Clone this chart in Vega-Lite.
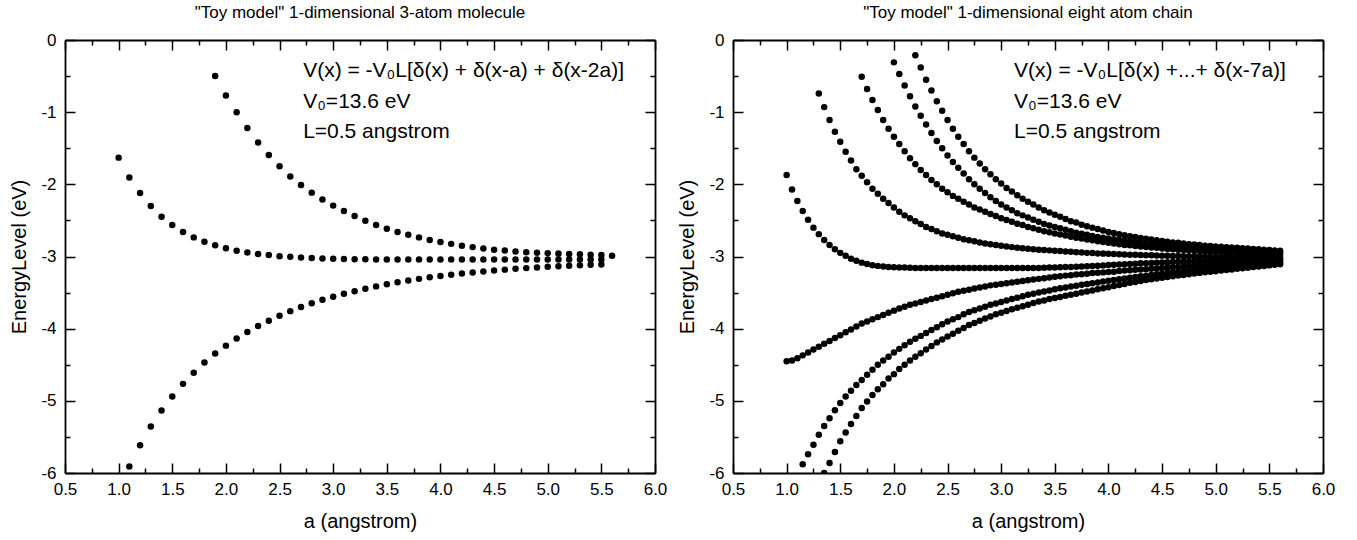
{
"$schema":"https://vega.github.io/schema/vega-lite/v6.json",
"background":"white",
"padding":{"left":9,"top":4,"right":5,"bottom":5},
"config":{"font":"Liberation Sans","view":{"stroke":null},
"axis":{"grid":false,"domainColor":"black","domainWidth":1.8,"tickColor":"black","tickWidth":1.5,"labelColor":"black","labelFontSize":17,"labelFont":"Liberation Sans","titleColor":"black","titleFontSize":20,"titleFontWeight":"normal","titleFont":"Liberation Sans"},
"title":{"fontSize":17,"fontWeight":"normal","color":"black","font":"Liberation Sans"}},
"datasets":{
"L":[
{"s":"L3","a":1.9,"E":-0.5},{"s":"L3","a":2.0,"E":-0.77},{"s":"L3","a":2.1,"E":-1.0},{"s":"L3","a":2.2,"E":-1.22},{"s":"L3","a":2.3,"E":-1.42},{"s":"L3","a":2.4,"E":-1.595},{"s":"L3","a":2.5,"E":-1.75},{"s":"L3","a":2.6,"E":-1.89},{"s":"L3","a":2.7,"E":-2.01},{"s":"L3","a":2.8,"E":-2.115},{"s":"L3","a":2.9,"E":-2.21},{"s":"L3","a":3.0,"E":-2.295},{"s":"L3","a":3.1,"E":-2.37},{"s":"L3","a":3.2,"E":-2.44},{"s":"L3","a":3.3,"E":-2.505},{"s":"L3","a":3.4,"E":-2.563},{"s":"L3","a":3.5,"E":-2.615},{"s":"L3","a":3.6,"E":-2.66},{"s":"L3","a":3.7,"E":-2.7},{"s":"L3","a":3.8,"E":-2.735},{"s":"L3","a":3.9,"E":-2.77},{"s":"L3","a":4.0,"E":-2.8},{"s":"L3","a":4.1,"E":-2.825},{"s":"L3","a":4.2,"E":-2.85},{"s":"L3","a":4.3,"E":-2.87},{"s":"L3","a":4.4,"E":-2.89},{"s":"L3","a":4.5,"E":-2.905},{"s":"L3","a":4.6,"E":-2.918},{"s":"L3","a":4.7,"E":-2.93},{"s":"L3","a":4.8,"E":-2.94},{"s":"L3","a":4.9,"E":-2.948},{"s":"L3","a":5.0,"E":-2.955},{"s":"L3","a":5.1,"E":-2.96},{"s":"L3","a":5.2,"E":-2.965},{"s":"L3","a":5.3,"E":-2.97},{"s":"L3","a":5.4,"E":-2.975},{"s":"L3","a":5.5,"E":-2.98},{"s":"L3","a":5.6,"E":-2.99},
{"s":"L2","a":1.0,"E":-1.63},{"s":"L2","a":1.1,"E":-1.905},{"s":"L2","a":1.2,"E":-2.12},{"s":"L2","a":1.3,"E":-2.3},{"s":"L2","a":1.4,"E":-2.45},{"s":"L2","a":1.5,"E":-2.565},{"s":"L2","a":1.6,"E":-2.66},{"s":"L2","a":1.7,"E":-2.735},{"s":"L2","a":1.8,"E":-2.795},{"s":"L2","a":1.9,"E":-2.845},{"s":"L2","a":2.0,"E":-2.885},{"s":"L2","a":2.1,"E":-2.92},{"s":"L2","a":2.2,"E":-2.945},{"s":"L2","a":2.3,"E":-2.965},{"s":"L2","a":2.4,"E":-2.98},{"s":"L2","a":2.5,"E":-2.995},{"s":"L2","a":2.6,"E":-3.005},{"s":"L2","a":2.7,"E":-3.015},{"s":"L2","a":2.8,"E":-3.022},{"s":"L2","a":2.9,"E":-3.028},{"s":"L2","a":3.0,"E":-3.032},{"s":"L2","a":3.1,"E":-3.035},{"s":"L2","a":3.2,"E":-3.037},{"s":"L2","a":3.3,"E":-3.039},{"s":"L2","a":3.4,"E":-3.04},{"s":"L2","a":3.5,"E":-3.04},{"s":"L2","a":3.6,"E":-3.04},{"s":"L2","a":3.7,"E":-3.04},{"s":"L2","a":3.8,"E":-3.04},{"s":"L2","a":3.9,"E":-3.04},{"s":"L2","a":4.0,"E":-3.04},{"s":"L2","a":4.1,"E":-3.04},{"s":"L2","a":4.2,"E":-3.04},{"s":"L2","a":4.3,"E":-3.04},{"s":"L2","a":4.4,"E":-3.04},{"s":"L2","a":4.5,"E":-3.04},{"s":"L2","a":4.6,"E":-3.04},{"s":"L2","a":4.7,"E":-3.04},{"s":"L2","a":4.8,"E":-3.04},{"s":"L2","a":4.9,"E":-3.04},{"s":"L2","a":5.0,"E":-3.04},{"s":"L2","a":5.1,"E":-3.04},{"s":"L2","a":5.2,"E":-3.04},{"s":"L2","a":5.3,"E":-3.04},{"s":"L2","a":5.4,"E":-3.04},{"s":"L2","a":5.5,"E":-3.04},
{"s":"L1","a":1.1,"E":-5.91},{"s":"L1","a":1.2,"E":-5.615},{"s":"L1","a":1.3,"E":-5.355},{"s":"L1","a":1.4,"E":-5.135},{"s":"L1","a":1.5,"E":-4.94},{"s":"L1","a":1.6,"E":-4.765},{"s":"L1","a":1.7,"E":-4.61},{"s":"L1","a":1.8,"E":-4.47},{"s":"L1","a":1.9,"E":-4.345},{"s":"L1","a":2.0,"E":-4.235},{"s":"L1","a":2.1,"E":-4.135},{"s":"L1","a":2.2,"E":-4.045},{"s":"L1","a":2.3,"E":-3.963},{"s":"L1","a":2.4,"E":-3.889},{"s":"L1","a":2.5,"E":-3.82},{"s":"L1","a":2.6,"E":-3.757},{"s":"L1","a":2.7,"E":-3.7},{"s":"L1","a":2.8,"E":-3.647},{"s":"L1","a":2.9,"E":-3.6},{"s":"L1","a":3.0,"E":-3.557},{"s":"L1","a":3.1,"E":-3.517},{"s":"L1","a":3.2,"E":-3.48},{"s":"L1","a":3.3,"E":-3.446},{"s":"L1","a":3.4,"E":-3.414},{"s":"L1","a":3.5,"E":-3.385},{"s":"L1","a":3.6,"E":-3.358},{"s":"L1","a":3.7,"E":-3.333},{"s":"L1","a":3.8,"E":-3.31},{"s":"L1","a":3.9,"E":-3.289},{"s":"L1","a":4.0,"E":-3.27},{"s":"L1","a":4.1,"E":-3.252},{"s":"L1","a":4.2,"E":-3.236},{"s":"L1","a":4.3,"E":-3.221},{"s":"L1","a":4.4,"E":-3.207},{"s":"L1","a":4.5,"E":-3.194},{"s":"L1","a":4.6,"E":-3.182},{"s":"L1","a":4.7,"E":-3.171},{"s":"L1","a":4.8,"E":-3.161},{"s":"L1","a":4.9,"E":-3.152},{"s":"L1","a":5.0,"E":-3.143},{"s":"L1","a":5.1,"E":-3.135},{"s":"L1","a":5.2,"E":-3.128},{"s":"L1","a":5.3,"E":-3.121},{"s":"L1","a":5.4,"E":-3.115},{"s":"L1","a":5.5,"E":-3.11}
],
"R":[
{"s":"r8","a":2.2,"E":-0.21},{"s":"r8","a":2.25,"E":-0.38},{"s":"r8","a":2.3,"E":-0.55},{"s":"r8","a":2.35,"E":-0.7},{"s":"r8","a":2.4,"E":-0.85},{"s":"r8","a":2.45,"E":-0.98},{"s":"r8","a":2.5,"E":-1.11},{"s":"r8","a":2.55,"E":-1.23},{"s":"r8","a":2.6,"E":-1.34},{"s":"r8","a":2.65,"E":-1.44},{"s":"r8","a":2.7,"E":-1.54},{"s":"r8","a":2.75,"E":-1.63},{"s":"r8","a":2.8,"E":-1.71},{"s":"r8","a":2.85,"E":-1.79},{"s":"r8","a":2.9,"E":-1.86},{"s":"r8","a":2.95,"E":-1.93},{"s":"r8","a":3.0,"E":-1.99},{"s":"r8","a":3.05,"E":-2.05},{"s":"r8","a":3.1,"E":-2.1},{"s":"r8","a":3.15,"E":-2.15},{"s":"r8","a":3.2,"E":-2.2},{"s":"r8","a":3.25,"E":-2.24},{"s":"r8","a":3.3,"E":-2.28},{"s":"r8","a":3.35,"E":-2.32},{"s":"r8","a":3.4,"E":-2.36},{"s":"r8","a":3.45,"E":-2.39},{"s":"r8","a":3.5,"E":-2.42},{"s":"r8","a":3.55,"E":-2.45},{"s":"r8","a":3.6,"E":-2.48},{"s":"r8","a":3.65,"E":-2.51},{"s":"r8","a":3.7,"E":-2.53},{"s":"r8","a":3.75,"E":-2.56},{"s":"r8","a":3.8,"E":-2.58},{"s":"r8","a":3.85,"E":-2.6},{"s":"r8","a":3.9,"E":-2.62},{"s":"r8","a":3.95,"E":-2.64},{"s":"r8","a":4.0,"E":-2.66},{"s":"r8","a":4.05,"E":-2.675},{"s":"r8","a":4.1,"E":-2.69},{"s":"r8","a":4.15,"E":-2.705},{"s":"r8","a":4.2,"E":-2.72},{"s":"r8","a":4.25,"E":-2.73},{"s":"r8","a":4.3,"E":-2.745},{"s":"r8","a":4.35,"E":-2.755},{"s":"r8","a":4.4,"E":-2.765},{"s":"r8","a":4.45,"E":-2.775},{"s":"r8","a":4.5,"E":-2.785},{"s":"r8","a":4.55,"E":-2.795},{"s":"r8","a":4.6,"E":-2.805},{"s":"r8","a":4.65,"E":-2.81},{"s":"r8","a":4.7,"E":-2.82},{"s":"r8","a":4.75,"E":-2.83},{"s":"r8","a":4.8,"E":-2.835},{"s":"r8","a":4.85,"E":-2.84},{"s":"r8","a":4.9,"E":-2.85},{"s":"r8","a":4.95,"E":-2.855},{"s":"r8","a":5.0,"E":-2.86},{"s":"r8","a":5.05,"E":-2.865},{"s":"r8","a":5.1,"E":-2.87},{"s":"r8","a":5.15,"E":-2.875},{"s":"r8","a":5.2,"E":-2.88},{"s":"r8","a":5.25,"E":-2.885},{"s":"r8","a":5.3,"E":-2.89},{"s":"r8","a":5.35,"E":-2.895},{"s":"r8","a":5.4,"E":-2.9},{"s":"r8","a":5.45,"E":-2.905},{"s":"r8","a":5.5,"E":-2.91},{"s":"r8","a":5.55,"E":-2.915},{"s":"r8","a":5.6,"E":-2.92},
{"s":"r7","a":2.0,"E":-0.31},{"s":"r7","a":2.05,"E":-0.47},{"s":"r7","a":2.1,"E":-0.63},{"s":"r7","a":2.15,"E":-0.78},{"s":"r7","a":2.2,"E":-0.92},{"s":"r7","a":2.25,"E":-1.05},{"s":"r7","a":2.3,"E":-1.17},{"s":"r7","a":2.35,"E":-1.29},{"s":"r7","a":2.4,"E":-1.4},{"s":"r7","a":2.45,"E":-1.5},{"s":"r7","a":2.5,"E":-1.6},{"s":"r7","a":2.55,"E":-1.69},{"s":"r7","a":2.6,"E":-1.77},{"s":"r7","a":2.65,"E":-1.85},{"s":"r7","a":2.7,"E":-1.93},{"s":"r7","a":2.75,"E":-2.0},{"s":"r7","a":2.8,"E":-2.06},{"s":"r7","a":2.85,"E":-2.12},{"s":"r7","a":2.9,"E":-2.18},{"s":"r7","a":2.95,"E":-2.23},{"s":"r7","a":3.0,"E":-2.28},{"s":"r7","a":3.05,"E":-2.32},{"s":"r7","a":3.1,"E":-2.36},{"s":"r7","a":3.15,"E":-2.4},{"s":"r7","a":3.2,"E":-2.43},{"s":"r7","a":3.25,"E":-2.46},{"s":"r7","a":3.3,"E":-2.49},{"s":"r7","a":3.35,"E":-2.52},{"s":"r7","a":3.4,"E":-2.55},{"s":"r7","a":3.45,"E":-2.57},{"s":"r7","a":3.5,"E":-2.59},{"s":"r7","a":3.55,"E":-2.61},{"s":"r7","a":3.6,"E":-2.63},{"s":"r7","a":3.65,"E":-2.65},{"s":"r7","a":3.7,"E":-2.67},{"s":"r7","a":3.75,"E":-2.685},{"s":"r7","a":3.8,"E":-2.7},{"s":"r7","a":3.85,"E":-2.715},{"s":"r7","a":3.9,"E":-2.73},{"s":"r7","a":3.95,"E":-2.74},{"s":"r7","a":4.0,"E":-2.75},{"s":"r7","a":4.05,"E":-2.76},{"s":"r7","a":4.1,"E":-2.77},{"s":"r7","a":4.15,"E":-2.78},{"s":"r7","a":4.2,"E":-2.79},{"s":"r7","a":4.25,"E":-2.8},{"s":"r7","a":4.3,"E":-2.81},{"s":"r7","a":4.35,"E":-2.82},{"s":"r7","a":4.4,"E":-2.825},{"s":"r7","a":4.45,"E":-2.83},{"s":"r7","a":4.5,"E":-2.84},{"s":"r7","a":4.55,"E":-2.845},{"s":"r7","a":4.6,"E":-2.85},{"s":"r7","a":4.65,"E":-2.86},{"s":"r7","a":4.7,"E":-2.865},{"s":"r7","a":4.75,"E":-2.87},{"s":"r7","a":4.8,"E":-2.875},{"s":"r7","a":4.85,"E":-2.88},{"s":"r7","a":4.9,"E":-2.885},{"s":"r7","a":4.95,"E":-2.89},{"s":"r7","a":5.0,"E":-2.895},{"s":"r7","a":5.05,"E":-2.9},{"s":"r7","a":5.1,"E":-2.905},{"s":"r7","a":5.15,"E":-2.91},{"s":"r7","a":5.2,"E":-2.913},{"s":"r7","a":5.25,"E":-2.917},{"s":"r7","a":5.3,"E":-2.92},{"s":"r7","a":5.35,"E":-2.925},{"s":"r7","a":5.4,"E":-2.93},{"s":"r7","a":5.45,"E":-2.933},{"s":"r7","a":5.5,"E":-2.937},{"s":"r7","a":5.55,"E":-2.94},{"s":"r7","a":5.6,"E":-2.945},
{"s":"r6","a":1.7,"E":-0.51},{"s":"r6","a":1.75,"E":-0.68},{"s":"r6","a":1.8,"E":-0.83},{"s":"r6","a":1.85,"E":-0.97},{"s":"r6","a":1.9,"E":-1.11},{"s":"r6","a":1.95,"E":-1.23},{"s":"r6","a":2.0,"E":-1.34},{"s":"r6","a":2.05,"E":-1.44},{"s":"r6","a":2.1,"E":-1.54},{"s":"r6","a":2.15,"E":-1.64},{"s":"r6","a":2.2,"E":-1.72},{"s":"r6","a":2.25,"E":-1.8},{"s":"r6","a":2.3,"E":-1.87},{"s":"r6","a":2.35,"E":-1.94},{"s":"r6","a":2.4,"E":-2.0},{"s":"r6","a":2.45,"E":-2.06},{"s":"r6","a":2.5,"E":-2.11},{"s":"r6","a":2.55,"E":-2.16},{"s":"r6","a":2.6,"E":-2.2},{"s":"r6","a":2.65,"E":-2.24},{"s":"r6","a":2.7,"E":-2.28},{"s":"r6","a":2.75,"E":-2.32},{"s":"r6","a":2.8,"E":-2.35},{"s":"r6","a":2.85,"E":-2.38},{"s":"r6","a":2.9,"E":-2.41},{"s":"r6","a":2.95,"E":-2.44},{"s":"r6","a":3.0,"E":-2.47},{"s":"r6","a":3.05,"E":-2.495},{"s":"r6","a":3.1,"E":-2.52},{"s":"r6","a":3.15,"E":-2.545},{"s":"r6","a":3.2,"E":-2.565},{"s":"r6","a":3.25,"E":-2.59},{"s":"r6","a":3.3,"E":-2.61},{"s":"r6","a":3.35,"E":-2.63},{"s":"r6","a":3.4,"E":-2.65},{"s":"r6","a":3.45,"E":-2.665},{"s":"r6","a":3.5,"E":-2.68},{"s":"r6","a":3.55,"E":-2.695},{"s":"r6","a":3.6,"E":-2.71},{"s":"r6","a":3.65,"E":-2.725},{"s":"r6","a":3.7,"E":-2.74},{"s":"r6","a":3.75,"E":-2.75},{"s":"r6","a":3.8,"E":-2.765},{"s":"r6","a":3.85,"E":-2.775},{"s":"r6","a":3.9,"E":-2.79},{"s":"r6","a":3.95,"E":-2.8},{"s":"r6","a":4.0,"E":-2.81},{"s":"r6","a":4.05,"E":-2.82},{"s":"r6","a":4.1,"E":-2.83},{"s":"r6","a":4.15,"E":-2.84},{"s":"r6","a":4.2,"E":-2.845},{"s":"r6","a":4.25,"E":-2.855},{"s":"r6","a":4.3,"E":-2.86},{"s":"r6","a":4.35,"E":-2.87},{"s":"r6","a":4.4,"E":-2.875},{"s":"r6","a":4.45,"E":-2.88},{"s":"r6","a":4.5,"E":-2.89},{"s":"r6","a":4.55,"E":-2.895},{"s":"r6","a":4.6,"E":-2.9},{"s":"r6","a":4.65,"E":-2.905},{"s":"r6","a":4.7,"E":-2.91},{"s":"r6","a":4.75,"E":-2.915},{"s":"r6","a":4.8,"E":-2.92},{"s":"r6","a":4.85,"E":-2.925},{"s":"r6","a":4.9,"E":-2.93},{"s":"r6","a":4.95,"E":-2.932},{"s":"r6","a":5.0,"E":-2.935},{"s":"r6","a":5.05,"E":-2.94},{"s":"r6","a":5.1,"E":-2.943},{"s":"r6","a":5.15,"E":-2.946},{"s":"r6","a":5.2,"E":-2.95},{"s":"r6","a":5.25,"E":-2.953},{"s":"r6","a":5.3,"E":-2.956},{"s":"r6","a":5.35,"E":-2.96},{"s":"r6","a":5.4,"E":-2.962},{"s":"r6","a":5.45,"E":-2.965},{"s":"r6","a":5.5,"E":-2.967},{"s":"r6","a":5.55,"E":-2.97},{"s":"r6","a":5.6,"E":-2.972},
{"s":"r5","a":1.3,"E":-0.74},{"s":"r5","a":1.35,"E":-0.93},{"s":"r5","a":1.4,"E":-1.11},{"s":"r5","a":1.45,"E":-1.27},{"s":"r5","a":1.5,"E":-1.41},{"s":"r5","a":1.55,"E":-1.55},{"s":"r5","a":1.6,"E":-1.67},{"s":"r5","a":1.65,"E":-1.79},{"s":"r5","a":1.7,"E":-1.88},{"s":"r5","a":1.75,"E":-1.97},{"s":"r5","a":1.8,"E":-2.06},{"s":"r5","a":1.85,"E":-2.13},{"s":"r5","a":1.9,"E":-2.2},{"s":"r5","a":1.95,"E":-2.26},{"s":"r5","a":2.0,"E":-2.32},{"s":"r5","a":2.05,"E":-2.38},{"s":"r5","a":2.1,"E":-2.43},{"s":"r5","a":2.15,"E":-2.47},{"s":"r5","a":2.2,"E":-2.51},{"s":"r5","a":2.25,"E":-2.55},{"s":"r5","a":2.3,"E":-2.59},{"s":"r5","a":2.35,"E":-2.62},{"s":"r5","a":2.4,"E":-2.65},{"s":"r5","a":2.45,"E":-2.68},{"s":"r5","a":2.5,"E":-2.7},{"s":"r5","a":2.55,"E":-2.72},{"s":"r5","a":2.6,"E":-2.74},{"s":"r5","a":2.65,"E":-2.76},{"s":"r5","a":2.7,"E":-2.775},{"s":"r5","a":2.75,"E":-2.79},{"s":"r5","a":2.8,"E":-2.805},{"s":"r5","a":2.85,"E":-2.82},{"s":"r5","a":2.9,"E":-2.83},{"s":"r5","a":2.95,"E":-2.84},{"s":"r5","a":3.0,"E":-2.85},{"s":"r5","a":3.05,"E":-2.86},{"s":"r5","a":3.1,"E":-2.87},{"s":"r5","a":3.15,"E":-2.878},{"s":"r5","a":3.2,"E":-2.885},{"s":"r5","a":3.25,"E":-2.892},{"s":"r5","a":3.3,"E":-2.9},{"s":"r5","a":3.35,"E":-2.905},{"s":"r5","a":3.4,"E":-2.91},{"s":"r5","a":3.45,"E":-2.915},{"s":"r5","a":3.5,"E":-2.92},{"s":"r5","a":3.55,"E":-2.925},{"s":"r5","a":3.6,"E":-2.93},{"s":"r5","a":3.65,"E":-2.935},{"s":"r5","a":3.7,"E":-2.94},{"s":"r5","a":3.75,"E":-2.945},{"s":"r5","a":3.8,"E":-2.95},{"s":"r5","a":3.85,"E":-2.953},{"s":"r5","a":3.9,"E":-2.957},{"s":"r5","a":3.95,"E":-2.96},{"s":"r5","a":4.0,"E":-2.963},{"s":"r5","a":4.05,"E":-2.966},{"s":"r5","a":4.1,"E":-2.969},{"s":"r5","a":4.15,"E":-2.972},{"s":"r5","a":4.2,"E":-2.975},{"s":"r5","a":4.25,"E":-2.977},{"s":"r5","a":4.3,"E":-2.98},{"s":"r5","a":4.35,"E":-2.982},{"s":"r5","a":4.4,"E":-2.984},{"s":"r5","a":4.45,"E":-2.986},{"s":"r5","a":4.5,"E":-2.988},{"s":"r5","a":4.55,"E":-2.99},{"s":"r5","a":4.6,"E":-2.992},{"s":"r5","a":4.65,"E":-2.994},{"s":"r5","a":4.7,"E":-2.995},{"s":"r5","a":4.75,"E":-2.997},{"s":"r5","a":4.8,"E":-2.998},{"s":"r5","a":4.85,"E":-3.0},{"s":"r5","a":4.9,"E":-3.001},{"s":"r5","a":4.95,"E":-3.002},{"s":"r5","a":5.0,"E":-3.003},{"s":"r5","a":5.05,"E":-3.004},{"s":"r5","a":5.1,"E":-3.005},{"s":"r5","a":5.15,"E":-3.006},{"s":"r5","a":5.2,"E":-3.007},{"s":"r5","a":5.25,"E":-3.008},{"s":"r5","a":5.3,"E":-3.009},{"s":"r5","a":5.35,"E":-3.01},{"s":"r5","a":5.4,"E":-3.011},{"s":"r5","a":5.45,"E":-3.012},{"s":"r5","a":5.5,"E":-3.013},{"s":"r5","a":5.55,"E":-3.014},{"s":"r5","a":5.6,"E":-3.015},
{"s":"r4","a":1.0,"E":-1.87},{"s":"r4","a":1.05,"E":-2.07},{"s":"r4","a":1.1,"E":-2.23},{"s":"r4","a":1.15,"E":-2.37},{"s":"r4","a":1.2,"E":-2.49},{"s":"r4","a":1.25,"E":-2.6},{"s":"r4","a":1.3,"E":-2.69},{"s":"r4","a":1.35,"E":-2.77},{"s":"r4","a":1.4,"E":-2.84},{"s":"r4","a":1.45,"E":-2.9},{"s":"r4","a":1.5,"E":-2.95},{"s":"r4","a":1.55,"E":-2.99},{"s":"r4","a":1.6,"E":-3.03},{"s":"r4","a":1.65,"E":-3.06},{"s":"r4","a":1.7,"E":-3.085},{"s":"r4","a":1.75,"E":-3.105},{"s":"r4","a":1.8,"E":-3.12},{"s":"r4","a":1.85,"E":-3.13},{"s":"r4","a":1.9,"E":-3.14},{"s":"r4","a":1.95,"E":-3.145},{"s":"r4","a":2.0,"E":-3.15},{"s":"r4","a":2.05,"E":-3.152},{"s":"r4","a":2.1,"E":-3.154},{"s":"r4","a":2.15,"E":-3.156},{"s":"r4","a":2.2,"E":-3.158},{"s":"r4","a":2.25,"E":-3.16},{"s":"r4","a":2.3,"E":-3.16},{"s":"r4","a":2.35,"E":-3.16},{"s":"r4","a":2.4,"E":-3.16},{"s":"r4","a":2.45,"E":-3.16},{"s":"r4","a":2.5,"E":-3.16},{"s":"r4","a":2.55,"E":-3.16},{"s":"r4","a":2.6,"E":-3.16},{"s":"r4","a":2.65,"E":-3.16},{"s":"r4","a":2.7,"E":-3.16},{"s":"r4","a":2.75,"E":-3.16},{"s":"r4","a":2.8,"E":-3.16},{"s":"r4","a":2.85,"E":-3.16},{"s":"r4","a":2.9,"E":-3.16},{"s":"r4","a":2.95,"E":-3.16},{"s":"r4","a":3.0,"E":-3.16},{"s":"r4","a":3.05,"E":-3.16},{"s":"r4","a":3.1,"E":-3.16},{"s":"r4","a":3.15,"E":-3.16},{"s":"r4","a":3.2,"E":-3.16},{"s":"r4","a":3.25,"E":-3.16},{"s":"r4","a":3.3,"E":-3.16},{"s":"r4","a":3.35,"E":-3.158},{"s":"r4","a":3.4,"E":-3.156},{"s":"r4","a":3.45,"E":-3.154},{"s":"r4","a":3.5,"E":-3.152},{"s":"r4","a":3.55,"E":-3.15},{"s":"r4","a":3.6,"E":-3.147},{"s":"r4","a":3.65,"E":-3.144},{"s":"r4","a":3.7,"E":-3.141},{"s":"r4","a":3.75,"E":-3.138},{"s":"r4","a":3.8,"E":-3.135},{"s":"r4","a":3.85,"E":-3.131},{"s":"r4","a":3.9,"E":-3.127},{"s":"r4","a":3.95,"E":-3.123},{"s":"r4","a":4.0,"E":-3.119},{"s":"r4","a":4.05,"E":-3.115},{"s":"r4","a":4.1,"E":-3.111},{"s":"r4","a":4.15,"E":-3.107},{"s":"r4","a":4.2,"E":-3.103},{"s":"r4","a":4.25,"E":-3.099},{"s":"r4","a":4.3,"E":-3.095},{"s":"r4","a":4.35,"E":-3.092},{"s":"r4","a":4.4,"E":-3.089},{"s":"r4","a":4.45,"E":-3.086},{"s":"r4","a":4.5,"E":-3.083},{"s":"r4","a":4.55,"E":-3.08},{"s":"r4","a":4.6,"E":-3.077},{"s":"r4","a":4.65,"E":-3.074},{"s":"r4","a":4.7,"E":-3.071},{"s":"r4","a":4.75,"E":-3.068},{"s":"r4","a":4.8,"E":-3.066},{"s":"r4","a":4.85,"E":-3.063},{"s":"r4","a":4.9,"E":-3.061},{"s":"r4","a":4.95,"E":-3.058},{"s":"r4","a":5.0,"E":-3.056},{"s":"r4","a":5.05,"E":-3.054},{"s":"r4","a":5.1,"E":-3.052},{"s":"r4","a":5.15,"E":-3.05},{"s":"r4","a":5.2,"E":-3.048},{"s":"r4","a":5.25,"E":-3.046},{"s":"r4","a":5.3,"E":-3.044},{"s":"r4","a":5.35,"E":-3.042},{"s":"r4","a":5.4,"E":-3.04},{"s":"r4","a":5.45,"E":-3.039},{"s":"r4","a":5.5,"E":-3.037},{"s":"r4","a":5.55,"E":-3.036},{"s":"r4","a":5.6,"E":-3.035},
{"s":"r3","a":1.0,"E":-4.45},{"s":"r3","a":1.05,"E":-4.44},{"s":"r3","a":1.1,"E":-4.41},{"s":"r3","a":1.15,"E":-4.37},{"s":"r3","a":1.2,"E":-4.33},{"s":"r3","a":1.25,"E":-4.29},{"s":"r3","a":1.3,"E":-4.25},{"s":"r3","a":1.35,"E":-4.21},{"s":"r3","a":1.4,"E":-4.17},{"s":"r3","a":1.45,"E":-4.13},{"s":"r3","a":1.5,"E":-4.09},{"s":"r3","a":1.55,"E":-4.05},{"s":"r3","a":1.6,"E":-4.01},{"s":"r3","a":1.65,"E":-3.97},{"s":"r3","a":1.7,"E":-3.93},{"s":"r3","a":1.75,"E":-3.9},{"s":"r3","a":1.8,"E":-3.87},{"s":"r3","a":1.85,"E":-3.84},{"s":"r3","a":1.9,"E":-3.81},{"s":"r3","a":1.95,"E":-3.78},{"s":"r3","a":2.0,"E":-3.75},{"s":"r3","a":2.05,"E":-3.72},{"s":"r3","a":2.1,"E":-3.695},{"s":"r3","a":2.15,"E":-3.67},{"s":"r3","a":2.2,"E":-3.65},{"s":"r3","a":2.25,"E":-3.63},{"s":"r3","a":2.3,"E":-3.61},{"s":"r3","a":2.35,"E":-3.59},{"s":"r3","a":2.4,"E":-3.57},{"s":"r3","a":2.45,"E":-3.55},{"s":"r3","a":2.5,"E":-3.53},{"s":"r3","a":2.55,"E":-3.51},{"s":"r3","a":2.6,"E":-3.49},{"s":"r3","a":2.65,"E":-3.475},{"s":"r3","a":2.7,"E":-3.46},{"s":"r3","a":2.75,"E":-3.445},{"s":"r3","a":2.8,"E":-3.43},{"s":"r3","a":2.85,"E":-3.415},{"s":"r3","a":2.9,"E":-3.4},{"s":"r3","a":2.95,"E":-3.39},{"s":"r3","a":3.0,"E":-3.38},{"s":"r3","a":3.05,"E":-3.37},{"s":"r3","a":3.1,"E":-3.36},{"s":"r3","a":3.15,"E":-3.35},{"s":"r3","a":3.2,"E":-3.34},{"s":"r3","a":3.25,"E":-3.33},{"s":"r3","a":3.3,"E":-3.32},{"s":"r3","a":3.35,"E":-3.31},{"s":"r3","a":3.4,"E":-3.3},{"s":"r3","a":3.45,"E":-3.29},{"s":"r3","a":3.5,"E":-3.28},{"s":"r3","a":3.55,"E":-3.275},{"s":"r3","a":3.6,"E":-3.265},{"s":"r3","a":3.65,"E":-3.26},{"s":"r3","a":3.7,"E":-3.25},{"s":"r3","a":3.75,"E":-3.245},{"s":"r3","a":3.8,"E":-3.24},{"s":"r3","a":3.85,"E":-3.23},{"s":"r3","a":3.9,"E":-3.225},{"s":"r3","a":3.95,"E":-3.22},{"s":"r3","a":4.0,"E":-3.215},{"s":"r3","a":4.05,"E":-3.21},{"s":"r3","a":4.1,"E":-3.2},{"s":"r3","a":4.15,"E":-3.195},{"s":"r3","a":4.2,"E":-3.19},{"s":"r3","a":4.25,"E":-3.185},{"s":"r3","a":4.3,"E":-3.18},{"s":"r3","a":4.35,"E":-3.175},{"s":"r3","a":4.4,"E":-3.17},{"s":"r3","a":4.45,"E":-3.165},{"s":"r3","a":4.5,"E":-3.16},{"s":"r3","a":4.55,"E":-3.155},{"s":"r3","a":4.6,"E":-3.15},{"s":"r3","a":4.65,"E":-3.145},{"s":"r3","a":4.7,"E":-3.14},{"s":"r3","a":4.75,"E":-3.135},{"s":"r3","a":4.8,"E":-3.13},{"s":"r3","a":4.85,"E":-3.125},{"s":"r3","a":4.9,"E":-3.12},{"s":"r3","a":4.95,"E":-3.115},{"s":"r3","a":5.0,"E":-3.11},{"s":"r3","a":5.05,"E":-3.106},{"s":"r3","a":5.1,"E":-3.102},{"s":"r3","a":5.15,"E":-3.098},{"s":"r3","a":5.2,"E":-3.094},{"s":"r3","a":5.25,"E":-3.09},{"s":"r3","a":5.3,"E":-3.086},{"s":"r3","a":5.35,"E":-3.082},{"s":"r3","a":5.4,"E":-3.078},{"s":"r3","a":5.45,"E":-3.074},{"s":"r3","a":5.5,"E":-3.07},{"s":"r3","a":5.55,"E":-3.067},{"s":"r3","a":5.6,"E":-3.064},
{"s":"r2","a":1.15,"E":-5.88},{"s":"r2","a":1.2,"E":-5.74},{"s":"r2","a":1.25,"E":-5.61},{"s":"r2","a":1.3,"E":-5.47},{"s":"r2","a":1.35,"E":-5.35},{"s":"r2","a":1.4,"E":-5.24},{"s":"r2","a":1.45,"E":-5.13},{"s":"r2","a":1.5,"E":-5.03},{"s":"r2","a":1.55,"E":-4.94},{"s":"r2","a":1.6,"E":-4.86},{"s":"r2","a":1.65,"E":-4.78},{"s":"r2","a":1.7,"E":-4.71},{"s":"r2","a":1.75,"E":-4.64},{"s":"r2","a":1.8,"E":-4.57},{"s":"r2","a":1.85,"E":-4.5},{"s":"r2","a":1.9,"E":-4.44},{"s":"r2","a":1.95,"E":-4.39},{"s":"r2","a":2.0,"E":-4.33},{"s":"r2","a":2.05,"E":-4.28},{"s":"r2","a":2.1,"E":-4.23},{"s":"r2","a":2.15,"E":-4.18},{"s":"r2","a":2.2,"E":-4.14},{"s":"r2","a":2.25,"E":-4.1},{"s":"r2","a":2.3,"E":-4.06},{"s":"r2","a":2.35,"E":-4.02},{"s":"r2","a":2.4,"E":-3.98},{"s":"r2","a":2.45,"E":-3.94},{"s":"r2","a":2.5,"E":-3.9},{"s":"r2","a":2.55,"E":-3.87},{"s":"r2","a":2.6,"E":-3.84},{"s":"r2","a":2.65,"E":-3.8},{"s":"r2","a":2.7,"E":-3.77},{"s":"r2","a":2.75,"E":-3.745},{"s":"r2","a":2.8,"E":-3.72},{"s":"r2","a":2.85,"E":-3.695},{"s":"r2","a":2.9,"E":-3.67},{"s":"r2","a":2.95,"E":-3.65},{"s":"r2","a":3.0,"E":-3.63},{"s":"r2","a":3.05,"E":-3.61},{"s":"r2","a":3.1,"E":-3.59},{"s":"r2","a":3.15,"E":-3.57},{"s":"r2","a":3.2,"E":-3.55},{"s":"r2","a":3.25,"E":-3.53},{"s":"r2","a":3.3,"E":-3.515},{"s":"r2","a":3.35,"E":-3.5},{"s":"r2","a":3.4,"E":-3.485},{"s":"r2","a":3.45,"E":-3.47},{"s":"r2","a":3.5,"E":-3.455},{"s":"r2","a":3.55,"E":-3.44},{"s":"r2","a":3.6,"E":-3.43},{"s":"r2","a":3.65,"E":-3.415},{"s":"r2","a":3.7,"E":-3.405},{"s":"r2","a":3.75,"E":-3.39},{"s":"r2","a":3.8,"E":-3.38},{"s":"r2","a":3.85,"E":-3.37},{"s":"r2","a":3.9,"E":-3.36},{"s":"r2","a":3.95,"E":-3.345},{"s":"r2","a":4.0,"E":-3.335},{"s":"r2","a":4.05,"E":-3.325},{"s":"r2","a":4.1,"E":-3.315},{"s":"r2","a":4.15,"E":-3.305},{"s":"r2","a":4.2,"E":-3.295},{"s":"r2","a":4.25,"E":-3.285},{"s":"r2","a":4.3,"E":-3.275},{"s":"r2","a":4.35,"E":-3.265},{"s":"r2","a":4.4,"E":-3.255},{"s":"r2","a":4.45,"E":-3.245},{"s":"r2","a":4.5,"E":-3.237},{"s":"r2","a":4.55,"E":-3.229},{"s":"r2","a":4.6,"E":-3.221},{"s":"r2","a":4.65,"E":-3.213},{"s":"r2","a":4.7,"E":-3.205},{"s":"r2","a":4.75,"E":-3.197},{"s":"r2","a":4.8,"E":-3.19},{"s":"r2","a":4.85,"E":-3.183},{"s":"r2","a":4.9,"E":-3.176},{"s":"r2","a":4.95,"E":-3.169},{"s":"r2","a":5.0,"E":-3.162},{"s":"r2","a":5.05,"E":-3.156},{"s":"r2","a":5.1,"E":-3.15},{"s":"r2","a":5.15,"E":-3.144},{"s":"r2","a":5.2,"E":-3.138},{"s":"r2","a":5.25,"E":-3.132},{"s":"r2","a":5.3,"E":-3.126},{"s":"r2","a":5.35,"E":-3.12},{"s":"r2","a":5.4,"E":-3.114},{"s":"r2","a":5.45,"E":-3.108},{"s":"r2","a":5.5,"E":-3.102},{"s":"r2","a":5.55,"E":-3.096},{"s":"r2","a":5.6,"E":-3.09},
{"s":"r1","a":1.35,"E":-6.0},{"s":"r1","a":1.4,"E":-5.86},{"s":"r1","a":1.45,"E":-5.71},{"s":"r1","a":1.5,"E":-5.56},{"s":"r1","a":1.55,"E":-5.44},{"s":"r1","a":1.6,"E":-5.32},{"s":"r1","a":1.65,"E":-5.21},{"s":"r1","a":1.7,"E":-5.1},{"s":"r1","a":1.75,"E":-5.01},{"s":"r1","a":1.8,"E":-4.92},{"s":"r1","a":1.85,"E":-4.84},{"s":"r1","a":1.9,"E":-4.77},{"s":"r1","a":1.95,"E":-4.69},{"s":"r1","a":2.0,"E":-4.63},{"s":"r1","a":2.05,"E":-4.56},{"s":"r1","a":2.1,"E":-4.5},{"s":"r1","a":2.15,"E":-4.44},{"s":"r1","a":2.2,"E":-4.39},{"s":"r1","a":2.25,"E":-4.34},{"s":"r1","a":2.3,"E":-4.29},{"s":"r1","a":2.35,"E":-4.24},{"s":"r1","a":2.4,"E":-4.19},{"s":"r1","a":2.45,"E":-4.15},{"s":"r1","a":2.5,"E":-4.11},{"s":"r1","a":2.55,"E":-4.07},{"s":"r1","a":2.6,"E":-4.03},{"s":"r1","a":2.65,"E":-3.99},{"s":"r1","a":2.7,"E":-3.95},{"s":"r1","a":2.75,"E":-3.92},{"s":"r1","a":2.8,"E":-3.89},{"s":"r1","a":2.85,"E":-3.86},{"s":"r1","a":2.9,"E":-3.83},{"s":"r1","a":2.95,"E":-3.8},{"s":"r1","a":3.0,"E":-3.78},{"s":"r1","a":3.05,"E":-3.755},{"s":"r1","a":3.1,"E":-3.73},{"s":"r1","a":3.15,"E":-3.71},{"s":"r1","a":3.2,"E":-3.69},{"s":"r1","a":3.25,"E":-3.67},{"s":"r1","a":3.3,"E":-3.645},{"s":"r1","a":3.35,"E":-3.625},{"s":"r1","a":3.4,"E":-3.61},{"s":"r1","a":3.45,"E":-3.59},{"s":"r1","a":3.5,"E":-3.575},{"s":"r1","a":3.55,"E":-3.56},{"s":"r1","a":3.6,"E":-3.545},{"s":"r1","a":3.65,"E":-3.53},{"s":"r1","a":3.7,"E":-3.515},{"s":"r1","a":3.75,"E":-3.5},{"s":"r1","a":3.8,"E":-3.485},{"s":"r1","a":3.85,"E":-3.47},{"s":"r1","a":3.9,"E":-3.455},{"s":"r1","a":3.95,"E":-3.44},{"s":"r1","a":4.0,"E":-3.425},{"s":"r1","a":4.05,"E":-3.41},{"s":"r1","a":4.1,"E":-3.395},{"s":"r1","a":4.15,"E":-3.38},{"s":"r1","a":4.2,"E":-3.365},{"s":"r1","a":4.25,"E":-3.352},{"s":"r1","a":4.3,"E":-3.34},{"s":"r1","a":4.35,"E":-3.327},{"s":"r1","a":4.4,"E":-3.315},{"s":"r1","a":4.45,"E":-3.305},{"s":"r1","a":4.5,"E":-3.295},{"s":"r1","a":4.55,"E":-3.285},{"s":"r1","a":4.6,"E":-3.275},{"s":"r1","a":4.65,"E":-3.265},{"s":"r1","a":4.7,"E":-3.255},{"s":"r1","a":4.75,"E":-3.245},{"s":"r1","a":4.8,"E":-3.235},{"s":"r1","a":4.85,"E":-3.227},{"s":"r1","a":4.9,"E":-3.219},{"s":"r1","a":4.95,"E":-3.211},{"s":"r1","a":5.0,"E":-3.203},{"s":"r1","a":5.05,"E":-3.195},{"s":"r1","a":5.1,"E":-3.187},{"s":"r1","a":5.15,"E":-3.179},{"s":"r1","a":5.2,"E":-3.171},{"s":"r1","a":5.25,"E":-3.163},{"s":"r1","a":5.3,"E":-3.155},{"s":"r1","a":5.35,"E":-3.147},{"s":"r1","a":5.4,"E":-3.139},{"s":"r1","a":5.45,"E":-3.131},{"s":"r1","a":5.5,"E":-3.123},{"s":"r1","a":5.55,"E":-3.115},{"s":"r1","a":5.6,"E":-3.107}
],
"NL":[{"a":2.72,"E":-0.43,"t":"V(x) = -V₀L[δ(x) + δ(x-a) + δ(x-2a)]"},{"a":2.72,"E":-0.86,"t":"V₀=13.6 eV"},{"a":2.72,"E":-1.27,"t":"L=0.5 angstrom"}],
"NR":[{"a":3.12,"E":-0.43,"t":"V(x) = -V₀L[δ(x) +...+ δ(x-7a)]"},{"a":3.12,"E":-0.86,"t":"V₀=13.6 eV"},{"a":3.12,"E":-1.27,"t":"L=0.5 angstrom"}]
},
"spacing":10,
"hconcat":[
{"width":590,"height":433,
 "title":{"text":"\"Toy model\" 1-dimensional 3-atom molecule","anchor":"middle","offset":9},
 "resolve":{"axis":{"x":"independent","y":"independent"}},
 "layer":[
  {"data":{"name":"L"},"mark":{"type":"circle","size":42,"color":"black","opacity":1,"clip":true},
   "encoding":{
    "x":{"field":"a","type":"quantitative","scale":{"domain":[0.5,6],"nice":false,"zero":false},
      "axis":{"orient":"bottom","title":"a (angstrom)","titlePadding":9,"values":[0.5,0.75,1,1.25,1.5,1.75,2,2.25,2.5,2.75,3,3.25,3.5,3.75,4,4.25,4.5,4.75,5,5.25,5.5,5.75,6],
        "labelExpr":"abs(datum.value*2 - round(datum.value*2)) < 0.001 ? format(datum.value, '.1f') : ''","labelPadding":18,"labelFlush":false,"labelOverlap":false,
        "tickSize":{"condition":{"test":"abs(datum.value*2 - round(datum.value*2)) < 0.001","value":-10},"value":-5}}},
    "y":{"field":"E","type":"quantitative","scale":{"domain":[-6,0],"nice":false,"zero":false},
      "axis":{"orient":"left","title":"EnergyLevel (eV)","titlePadding":11,"values":[0,-0.5,-1,-1.5,-2,-2.5,-3,-3.5,-4,-4.5,-5,-5.5,-6],
        "labelExpr":"abs(datum.value - round(datum.value)) < 0.001 ? (datum.value < 0 ? '-' + format(abs(datum.value), 'd') : '0') : ''","labelPadding":19,"labelFlush":false,"labelOverlap":false,
        "tickSize":{"condition":{"test":"abs(datum.value - round(datum.value)) < 0.001","value":-10},"value":-5}}}}},
  {"data":{"name":"NL"},"mark":{"type":"text","align":"left","baseline":"middle","fontSize":21,"color":"black","font":"Liberation Sans"},
   "encoding":{"text":{"field":"t","type":"nominal"},
    "x":{"field":"a","type":"quantitative","axis":{"orient":"top","title":null,"labels":false,"values":[0.5,0.75,1,1.25,1.5,1.75,2,2.25,2.5,2.75,3,3.25,3.5,3.75,4,4.25,4.5,4.75,5,5.25,5.5,5.75,6],
        "tickSize":{"condition":{"test":"abs(datum.value*2 - round(datum.value*2)) < 0.001","value":-10},"value":-5}}},
    "y":{"field":"E","type":"quantitative","axis":{"orient":"right","title":null,"labels":false,"values":[0,-0.5,-1,-1.5,-2,-2.5,-3,-3.5,-4,-4.5,-5,-5.5,-6],
        "tickSize":{"condition":{"test":"abs(datum.value - round(datum.value)) < 0.001","value":-10},"value":-5}}}}}
 ]},
{"width":590,"height":433,
 "title":{"text":"\"Toy model\" 1-dimensional eight atom chain","anchor":"middle","offset":9},
 "resolve":{"axis":{"x":"independent","y":"independent"}},
 "layer":[
  {"data":{"name":"R"},"mark":{"type":"circle","size":42,"color":"black","opacity":1,"clip":true},
   "encoding":{
    "x":{"field":"a","type":"quantitative","scale":{"domain":[0.5,6],"nice":false,"zero":false},
      "axis":{"orient":"bottom","title":"a (angstrom)","titlePadding":9,"values":[0.5,0.75,1,1.25,1.5,1.75,2,2.25,2.5,2.75,3,3.25,3.5,3.75,4,4.25,4.5,4.75,5,5.25,5.5,5.75,6],
        "labelExpr":"abs(datum.value*2 - round(datum.value*2)) < 0.001 ? format(datum.value, '.1f') : ''","labelPadding":18,"labelFlush":false,"labelOverlap":false,
        "tickSize":{"condition":{"test":"abs(datum.value*2 - round(datum.value*2)) < 0.001","value":-10},"value":-5}}},
    "y":{"field":"E","type":"quantitative","scale":{"domain":[-6,0],"nice":false,"zero":false},
      "axis":{"orient":"left","title":"EnergyLevel (eV)","titlePadding":11,"values":[0,-0.5,-1,-1.5,-2,-2.5,-3,-3.5,-4,-4.5,-5,-5.5,-6],
        "labelExpr":"abs(datum.value - round(datum.value)) < 0.001 ? (datum.value < 0 ? '-' + format(abs(datum.value), 'd') : '0') : ''","labelPadding":19,"labelFlush":false,"labelOverlap":false,
        "tickSize":{"condition":{"test":"abs(datum.value - round(datum.value)) < 0.001","value":-10},"value":-5}}}}},
  {"data":{"name":"NR"},"mark":{"type":"text","align":"left","baseline":"middle","fontSize":21,"color":"black","font":"Liberation Sans"},
   "encoding":{"text":{"field":"t","type":"nominal"},
    "x":{"field":"a","type":"quantitative","axis":{"orient":"top","title":null,"labels":false,"values":[0.5,0.75,1,1.25,1.5,1.75,2,2.25,2.5,2.75,3,3.25,3.5,3.75,4,4.25,4.5,4.75,5,5.25,5.5,5.75,6],
        "tickSize":{"condition":{"test":"abs(datum.value*2 - round(datum.value*2)) < 0.001","value":-10},"value":-5}}},
    "y":{"field":"E","type":"quantitative","axis":{"orient":"right","title":null,"labels":false,"values":[0,-0.5,-1,-1.5,-2,-2.5,-3,-3.5,-4,-4.5,-5,-5.5,-6],
        "tickSize":{"condition":{"test":"abs(datum.value - round(datum.value)) < 0.001","value":-10},"value":-5}}}}}
 ]}
]
}
